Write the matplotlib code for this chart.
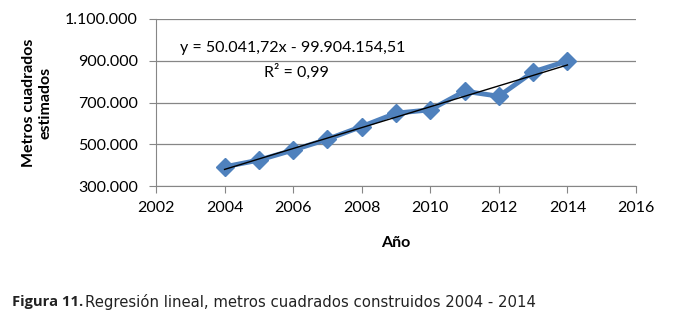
import matplotlib
matplotlib.use("Agg")
import matplotlib.pyplot as plt
import numpy as np

years = [2004, 2005, 2006, 2007, 2008, 2009, 2010, 2011, 2012, 2013, 2014]
metros = [392000, 424000, 472000, 524000, 585000, 649000, 665000, 754000, 730000, 847000, 899000]
slope = 50041.72
intercept = -99904154.51
y_ticks = [300000, 500000, 700000, 900000, 1100000]
y_tick_labels = ["300.000", "500.000", "700.000", "900.000", "1.100.000"]
x_ticks = [2002, 2004, 2006, 2008, 2010, 2012, 2014, 2016]

plt.rcParams['font.family'] = ['Lato', 'DejaVu Sans']

fig = plt.figure(figsize=(7.0, 3.19), dpi=100)
ax = fig.add_axes([156/700, 1-186/319, (636-156)/700, (186-19)/319])

ax.plot(years, metros, color="#4F81BD", lw=3.5, marker="D", markersize=9,
        markeredgecolor="#4F81BD", zorder=3)
tx = np.array([years[0], years[-1]])
ax.plot(tx, slope*tx + intercept, color="black", lw=1.0, zorder=4)

ax.set_xlim(2002, 2016)
ax.set_ylim(300000, 1100000)
ax.set_xticks(x_ticks)
ax.set_xticklabels([str(x) for x in x_ticks], fontsize=11.5)
ax.set_yticks(y_ticks)
ax.set_yticklabels(y_tick_labels, fontsize=11.5)
ax.yaxis.grid(True, color="#868686", lw=0.9)
ax.set_axisbelow(True)
for s in ["top", "right"]:
    ax.spines[s].set_visible(False)
for s in ["left", "bottom"]:
    ax.spines[s].set_color("#868686")
ax.tick_params(axis="both", color="#868686", length=5, direction="out")
ax.tick_params(axis="y", pad=8)
ax.tick_params(axis="x", pad=6)

ax.set_xlabel("Año", fontsize=11.5, fontweight="bold", labelpad=15)
ax.set_ylabel("Metros cuadrados\nestimados", fontsize=11.5, fontweight="bold",
              labelpad=9, multialignment="center")

ax.text(0.05, 0.80, "y = 50.041,72x - 99.904.154,51", transform=ax.transAxes, fontsize=11.5)
ax.text(0.225, 0.655, "R² = 0,99", transform=ax.transAxes, fontsize=11.5)

fig.text(12/700, 1-302/319, "Figura 11.", fontsize=10.6, fontweight="bold",
         family="Open Sans", va="center", color="#222222")
fig.text(85/700, 1-302/319, "Regresión lineal, metros cuadrados construidos 2004 - 2014",
         fontsize=10.7, family="DejaVu Sans", va="center", color="#222222")

fig.savefig("out.png", dpi=100)
